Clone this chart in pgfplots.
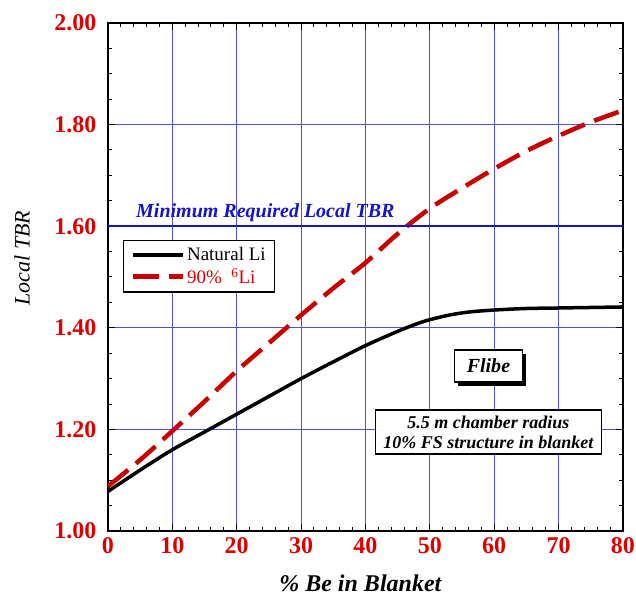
\documentclass[border=0pt]{standalone}
\usepackage{fontspec}
\setmainfont{Liberation Serif}
\usepackage{pgfplots}
\pgfplotsset{compat=1.18}
\usetikzlibrary{shadows}
\definecolor{tickred}{RGB}{220,0,0}
\definecolor{gridblue}{RGB}{80,80,230}
\definecolor{minblue}{RGB}{20,20,200}
\definecolor{curvered}{RGB}{200,0,0}
\begin{document}
\begin{tikzpicture}
\useasboundingbox (-108pt,-66pt) rectangle (528pt,531pt);
\begin{axis}[
 at={(0pt,0pt)}, anchor=south west,
 scale only axis, width=515pt, height=508pt,
 xmin=0, xmax=80, ymin=1, ymax=2,
 xtick={0,10,...,80}, ytick={1,1.2,1.4,1.6,1.8,2.0},
 minor x tick num=4, minor y tick num=3,
 tick align=inside, major tick length=7pt, minor tick length=4pt,
 tick style={black, line width=1pt},
 grid=major, major grid style={gridblue, line width=0.8pt},
 axis line style={line width=1.3pt},
 /pgf/number format/assume math mode=true,
 ticklabel style={font=\fontsize{24}{28}\selectfont\bfseries, text=tickred},
 yticklabel style={/pgf/number format/fixed, /pgf/number format/fixed zerofill, /pgf/number format/precision=2, xshift=-8pt},
 xticklabel style={/pgf/number format/fixed, /pgf/number format/precision=0, yshift=-3pt},
 xlabel={\% Be in Blanket},
 ylabel={Local TBR},
 every axis x label/.style={at={(axis description cs:0.49,0)}, yshift=-52pt, anchor=center, font=\fontsize{24}{28}\selectfont\bfseries\itshape},
 every axis y label/.style={at={(axis description cs:0,0.537)}, xshift=-86pt, rotate=90, anchor=center, font=\fontsize{22}{26}\selectfont\itshape},
 legend style={at={(axis cs:2.3,1.573)}, anchor=north west, draw=black, line width=1.5pt,
   font=\fontsize{19}{22}\selectfont, inner xsep=7pt, inner ysep=5pt, row sep=2pt,
   /tikz/every even column/.append style={column sep=2pt}},
 legend cell align=left,
 legend image code/.code={\draw[#1] (0pt,0pt) -- (50pt,0pt);},
]
\addplot[black, line width=3.5pt, smooth] coordinates {
(0,1.078) (5,1.12) (10,1.16) (15,1.195) (20,1.23) (25,1.265) (30,1.30) (35,1.333) (40,1.365) (45,1.393) (48,1.408) (50,1.416) (53,1.425) (56,1.431) (60,1.435) (65,1.438) (70,1.439) (75,1.440) (80,1.441)};
\addlegendentry{Natural Li}
\addplot[curvered, line width=4.5pt, smooth, dash pattern=on 26pt off 10pt] coordinates {
(0,1.088) (5,1.14) (10,1.197) (15,1.255) (20,1.315) (25,1.37) (30,1.425) (35,1.478) (40,1.528) (45,1.585) (50,1.635) (55,1.675) (60,1.713) (65,1.748) (70,1.778) (75,1.805) (80,1.828)};
\addlegendentry{\textcolor{tickred}{90\%\ \ \textsuperscript{6}Li}}
\addplot[minblue, line width=2.5pt, forget plot] coordinates {(0,1.6) (80,1.6)};
\node[anchor=base west, text=minblue, font=\fontsize{20}{24}\selectfont\bfseries\itshape, inner sep=0pt] at (axis cs:4.35,1.618) {Minimum Required Local TBR};
\node[draw=black, line width=1.2pt, fill=white, minimum width=68pt, minimum height=32pt, inner sep=0pt,
  font=\fontsize{20}{24}\selectfont\bfseries\itshape,
  drop shadow={shadow xshift=4pt, shadow yshift=-4pt, fill=black, opacity=1}] at (axis cs:59.1,1.325) {Flibe};
\node[draw=black, line width=1.2pt, fill=white, minimum width=226pt, minimum height=44pt, inner sep=2pt, align=center,
  font=\fontsize{18}{20}\selectfont\bfseries\itshape] at (axis cs:59.1,1.195) {5.5 m chamber radius\\10\% FS structure in blanket};
\end{axis}
\end{tikzpicture}
\end{document}
